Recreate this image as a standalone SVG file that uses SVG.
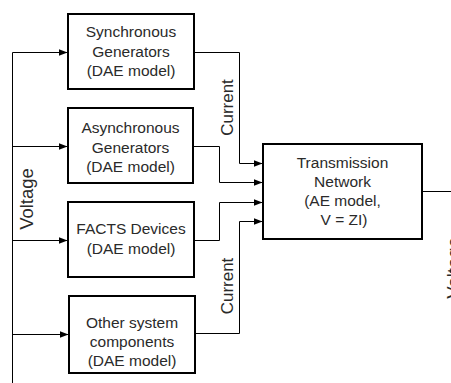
<svg xmlns="http://www.w3.org/2000/svg" width="451" height="383" viewBox="0 0 451 383">
<style>
.box{fill:#fff;stroke:#000;stroke-width:2}
.t{font-family:"Liberation Sans",Arial,sans-serif;font-size:15.5px;fill:#2a2a2a;text-anchor:middle}
.lbl{font-size:17px}
.vlt{font-size:18.5px}
.c{fill:none;stroke:#000;stroke-width:1}
</style>
<defs>
<marker id="ah" markerWidth="9" markerHeight="8" refX="8.5" refY="4" orient="auto" markerUnits="userSpaceOnUse">
<path d="M0,0.5 L9,4 L0,7.5 Z" fill="#000"/>
</marker>
</defs>
<rect width="451" height="383" fill="#fff"/>
<g id="connectors">
<path class="c" d="M12.5,383 V52.5 H67" marker-end="url(#ah)"/>
<path class="c" d="M12.5,146.5 H67" marker-end="url(#ah)"/>
<path class="c" d="M12.5,240.5 H67" marker-end="url(#ah)"/>
<path class="c" d="M12.5,334.5 H68" marker-end="url(#ah)"/>
<path class="c" d="M194,52.5 H239.5 V163.5 H262" marker-end="url(#ah)"/>
<path class="c" d="M193,146.5 H219.5 V182.5 H262" marker-end="url(#ah)"/>
<path class="c" d="M194,240.5 H219.5 V202.5 H262" marker-end="url(#ah)"/>
<path class="c" d="M195,333.5 H239.5 V221.5 H262" marker-end="url(#ah)"/>
<path class="c" d="M422,191.5 H451"/>
<text class="t lbl" transform="translate(233,107.5) rotate(-90)">Current</text>
<text class="t lbl" transform="translate(233,286) rotate(-90)">Current</text>
<text class="t vlt" transform="translate(32.5,199) rotate(-90)">Voltage</text>
<text class="t vlt" transform="translate(460,268) rotate(-90)">Voltage</text>
</g>
<g id="sync">
<rect class="box" x="68" y="14" width="126" height="75"/>
<text class="t" x="131" y="37">Synchronous</text>
<text class="t" x="131" y="56.5">Generators</text>
<text class="t" x="131" y="76">(DAE model)</text>
</g>
<g id="async">
<rect class="box" x="68" y="108" width="125" height="75"/>
<text class="t" x="130.5" y="133">Asynchronous</text>
<text class="t" x="130.5" y="152.5">Generators</text>
<text class="t" x="130.5" y="172">(DAE model)</text>
</g>
<g id="facts">
<rect class="box" x="68" y="202" width="126" height="75"/>
<text class="t" x="131" y="234">FACTS Devices</text>
<text class="t" x="131" y="253.5">(DAE model)</text>
</g>
<g id="other">
<rect class="box" x="69" y="296" width="126" height="77"/>
<text class="t" x="132" y="328">Other system</text>
<text class="t" x="132" y="347">components</text>
<text class="t" x="132" y="366">(DAE model)</text>
</g>
<g id="network">
<rect class="box" x="263" y="144" width="159" height="95"/>
<text class="t" x="342.5" y="168">Transmission</text>
<text class="t" x="342.5" y="187">Network</text>
<text class="t" x="342.5" y="206">(AE model,</text>
<text class="t" x="344" y="225">V = ZI)</text>
</g>
</svg>
